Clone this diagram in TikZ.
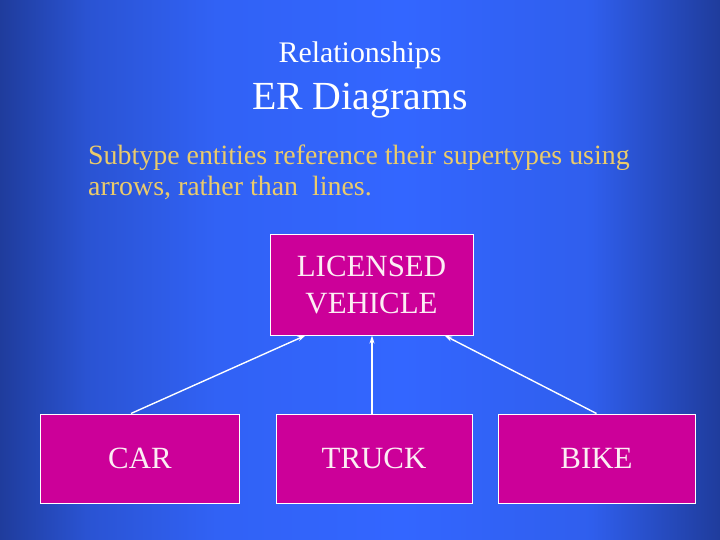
\documentclass[tikz,border=0pt]{standalone}
\usepackage{fontspec}
\setmainfont{Liberation Serif}
\usetikzlibrary{arrows.meta}

\definecolor{bgedge}{HTML}{1F3C9C}
\definecolor{bgmid}{HTML}{3366FF}
\definecolor{entfill}{HTML}{CC0099}
\definecolor{subgold}{HTML}{EBCB6A}
\definecolor{lighttext}{HTML}{FCEEF4}

\pgfdeclarehorizontalshading{slidebg}{100bp}{%
    color(0bp)=(bgedge); color(25bp)=(bgedge); color(31bp)=(bgedge!45!bgmid);
    color(40bp)=(bgmid!90!bgedge); color(53bp)=(bgmid); color(66bp)=(bgmid!82!bgedge);
    color(75bp)=(bgedge); color(100bp)=(bgedge)}

\tikzset{
    entbox/.style={draw=white, line width=1bp, fill=entfill, text=lighttext,
        align=center, inner sep=0pt,
        font=\fontsize{31}{38}\selectfont},
    isa/.style={draw=white, line width=1.4bp, -{Stealth[length=8bp,width=5bp]}}
}

\begin{document}
\begin{tikzpicture}[x=1bp, y=-1bp]
    % Background
    \shade[shading=slidebg] (0,0) rectangle (720,540);
    \useasboundingbox (0,0) rectangle (720,540);

    % Titles
    \node[anchor=base, text=white, font=\fontsize{30}{36}\selectfont] (title) at (360,63) {Relationships};
    \node[anchor=base, text=white, font=\fontsize{40}{48}\selectfont] (heading) at (360,110) {ER Diagrams};

    % Remark
    \node[anchor=north west, inner sep=0pt, align=left, text=subgold,
        font=\fontsize{28}{31}\selectfont] (remark) at (88,145)
        {Subtype entities reference their supertypes using\\arrows, rather than\ \ lines.};

    % Entities
    \node[entbox, minimum width=203bp, minimum height=100bp] (lic) at (371.5,285) {LICENSED\\VEHICLE};
    \node[entbox, minimum width=198bp, minimum height=89bp] (car) at (140,458.5) {CAR};
    \node[entbox, minimum width=196bp, minimum height=89bp] (truck) at (374,458.5) {TRUCK};
    \node[entbox, minimum width=197bp, minimum height=89bp] (bike) at (596.5,458.5) {BIKE};

    % Subtype arrows
    \draw[isa] ([xshift=-9bp]car.north) -- ([xshift=36bp]lic.south west);
    \draw[isa] ([xshift=-2bp]truck.north) -- ([xshift=-2bp]truck.north |- lic.south);
    \draw[isa] (bike.north) -- ([xshift=-29bp]lic.south east);
\end{tikzpicture}
\end{document}
